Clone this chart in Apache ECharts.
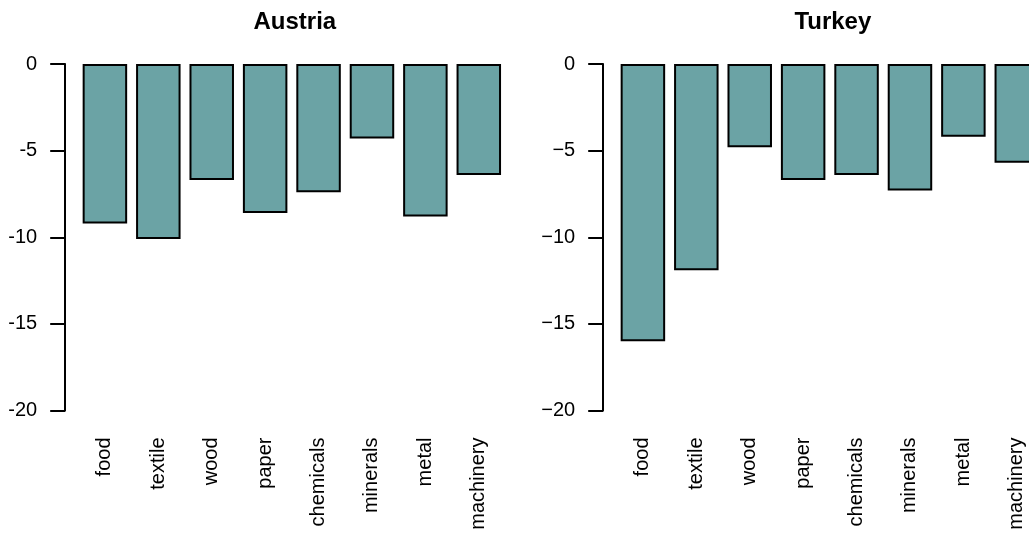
<!DOCTYPE html>
<html>
<head>
<meta charset="utf-8">
<script src="https://cdn.jsdelivr.net/npm/echarts@6/dist/echarts.min.js"></script>
<style>
  html, body { margin: 0; padding: 0; background: #fff; overflow: hidden; }
  /* the right panel runs past the window edge, so the canvas is wider than the view */
  #chart { width: 1060px; height: 534px; }
</style>
</head>
<body>
<div id="chart"></div>
<script>
// Sectors shown on both panels
const categories = ['food', 'textile', 'wood', 'paper', 'chemicals', 'minerals', 'metal', 'machinery'];
// Change per sector, one array per country
const austriaValues = [-9.2, -10.1, -6.7, -8.6, -7.4, -4.3, -8.8, -6.4];
const turkeyValues = [-16.0, -11.9, -4.8, -6.7, -6.4, -7.3, -4.2, -5.7];
const panelTitles = ['Austria', 'Turkey'];
// Value axis range and tick step
const yMin = -20;
const yMax = 0;
const yStep = 5;

const FONT = '"Liberation Sans", Arial, Helvetica, sans-serif';
const BAR_FILL = '#6ba3a5';

const panels = [
  { title: panelTitles[0], data: austriaValues, left: 78.2, minus: '-' },
  { title: panelTitles[1], data: turkeyValues, left: 616.2, minus: '\u2212' }
];
const GRID_TOP = 64;
const GRID_H = 346.5;
const GRID_W = 427.3;

const option = {
  backgroundColor: '#ffffff',
  animation: false,
  title: panels.map(p => ({
    text: p.title,
    left: p.left + GRID_W / 2 - 2,
    top: 5,
    textAlign: 'center',
    textStyle: { fontFamily: FONT, fontSize: 24, fontWeight: 'bold', color: '#000' }
  })),
  grid: panels.map(p => ({
    left: p.left, top: GRID_TOP, width: GRID_W, height: GRID_H, containLabel: false
  })),
  xAxis: panels.map((p, i) => ({
    type: 'category',
    gridIndex: i,
    data: categories,
    position: 'bottom',
    axisLine: { show: false },
    axisTick: { show: false },
    axisLabel: {
      rotate: 90,
      margin: 27,
      interval: 0,
      fontFamily: FONT,
      fontSize: 20,
      color: '#000'
    }
  })),
  yAxis: panels.map((p, i) => ({
    type: 'value',
    gridIndex: i,
    min: yMin,
    max: yMax,
    interval: yStep,
    offset: 13,
    axisLine: { show: true, lineStyle: { color: '#000', width: 2 } },
    axisTick: { show: true, length: 15, lineStyle: { color: '#000', width: 2 } },
    splitLine: { show: false },
    axisLabel: {
      margin: 28,
      fontFamily: FONT,
      fontSize: 20,
      color: '#000',
      formatter: v => String(v).replace('-', p.minus)
    }
  })),
  series: panels.map((p, i) => ({
    type: 'bar',
    xAxisIndex: i,
    yAxisIndex: i,
    data: p.data,
    barCategoryGap: '16.7%',
    itemStyle: { color: BAR_FILL, borderColor: '#000', borderWidth: 2 }
  }))
};

const chart = echarts.init(document.getElementById('chart'), null, { renderer: 'canvas' });
chart.setOption(option);
</script>
</body>
</html>
